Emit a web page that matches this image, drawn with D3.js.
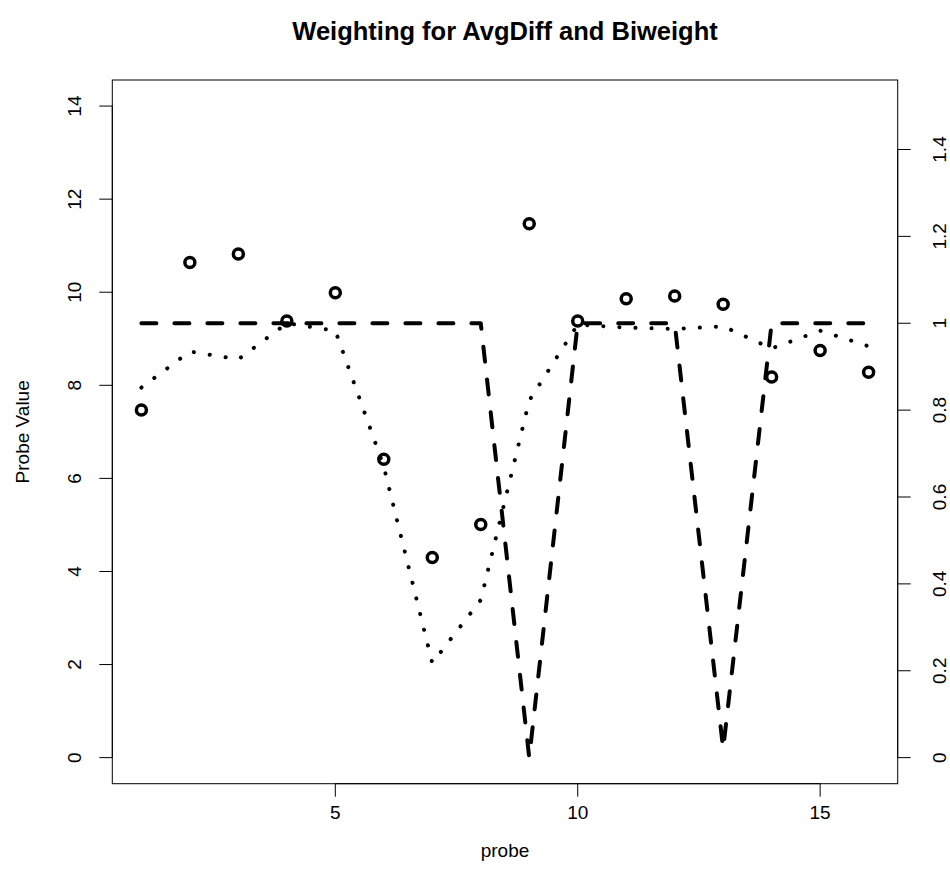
<!DOCTYPE html>
<html>
<head>
<meta charset="utf-8">
<script src="https://cdn.jsdelivr.net/npm/d3@7"></script>
<style>
  html, body { margin: 0; padding: 0; background: #fff; }
  svg { display: block; }
  text { font-family: "Liberation Sans", Arial, Helvetica, sans-serif; fill: #000; }
</style>
</head>
<body>
<script>
// ---- data ----
const probes = [1,2,3,4,5,6,7,8,9,10,11,12,13,14,15,16];
const probeValues = [7.47,10.64,10.82,9.38,9.99,6.41,4.30,5.01,11.47,9.38,9.86,9.92,9.74,8.18,8.75,8.28];
const avgDiffWeights = [0.852,0.935,0.917,1.0,0.983,0.670,0.218,0.363,0.822,0.997,0.990,0.987,0.993,0.942,0.983,0.947];
const biweightWeights = [1,1,1,1,1,1,1,1,0,1,1,1,0.02,1,1,1];
const xTicks = [5,10,15];
const yLeftTicks = [0,2,4,6,8,10,12,14];
const yRightTicks = [0,0.2,0.4,0.6,0.8,1,1.2,1.4];
const yRightLabels = ["0","0.2","0.4","0.6","0.8","1","1.2","1.4"];

const W = 950, H = 888;
const m = {left: 112.3, right: 897.7, top: 80, bottom: 783.7};

const svg = d3.select("body").append("svg").attr("width", W).attr("height", H);

const x = d3.scaleLinear().domain([0.4, 16.6]).range([m.left, m.right]);
const yL = d3.scaleLinear().domain([-0.56, 14.56]).range([m.bottom, m.top]);
const yR = d3.scaleLinear().domain([-0.06, 1.56]).range([m.bottom, m.top]);

// box
svg.append("rect")
  .attr("x", m.left).attr("y", m.top)
  .attr("width", m.right - m.left).attr("height", m.bottom - m.top)
  .attr("fill", "none").attr("stroke", "#000").attr("stroke-width", 1);

const tickLen = 13;
const fs = 19;

// bottom axis
const gB = svg.append("g");
gB.append("line").attr("x1", x(xTicks[0])).attr("x2", x(xTicks[xTicks.length-1]))
  .attr("y1", m.bottom).attr("y2", m.bottom).attr("stroke", "#000");
xTicks.forEach(t => {
  gB.append("line").attr("x1", x(t)).attr("x2", x(t)).attr("y1", m.bottom).attr("y2", m.bottom + tickLen).attr("stroke", "#000");
  gB.append("text").attr("x", x(t)).attr("y", 819).attr("text-anchor", "middle")
    .attr("font-size", fs).text(t);
});

// left axis
const gL = svg.append("g");
gL.append("line").attr("x1", m.left).attr("x2", m.left)
  .attr("y1", yL(yLeftTicks[0])).attr("y2", yL(yLeftTicks[yLeftTicks.length-1])).attr("stroke", "#000");
yLeftTicks.forEach(t => {
  gL.append("line").attr("x1", m.left - tickLen).attr("x2", m.left).attr("y1", yL(t)).attr("y2", yL(t)).attr("stroke", "#000");
  gL.append("text").attr("transform", `translate(${81},${yL(t)}) rotate(-90)`)
    .attr("text-anchor", "middle").attr("font-size", fs).text(t);
});

// right axis
const gR = svg.append("g");
gR.append("line").attr("x1", m.right).attr("x2", m.right)
  .attr("y1", yR(yRightTicks[0])).attr("y2", yR(yRightTicks[yRightTicks.length-1])).attr("stroke", "#000");
yRightTicks.forEach((t, i) => {
  gR.append("line").attr("x1", m.right).attr("x2", m.right + tickLen).attr("y1", yR(t)).attr("y2", yR(t)).attr("stroke", "#000");
  gR.append("text").attr("transform", `translate(${946},${yR(t)}) rotate(-90)`)
    .attr("text-anchor", "middle").attr("font-size", fs).text(yRightLabels[i]);
});

// axis titles
svg.append("text").attr("x", (m.left + m.right) / 2).attr("y", 857).attr("text-anchor", "middle")
  .attr("font-size", fs).text("probe");
svg.append("text").attr("transform", `translate(${29},${(m.top + m.bottom) / 2}) rotate(-90)`)
  .attr("text-anchor", "middle").attr("font-size", fs).text("Probe Value");

// title
svg.append("text").attr("x", (m.left + m.right) / 2).attr("y", 40).attr("text-anchor", "middle")
  .attr("font-size", 25.5).attr("font-weight", "bold").text("Weighting for AvgDiff and Biweight");

// clip
svg.append("clipPath").attr("id", "clip").append("rect")
  .attr("x", m.left).attr("y", m.top).attr("width", m.right - m.left).attr("height", m.bottom - m.top);
const plot = svg.append("g").attr("clip-path", "url(#clip)");

// biweight dashed
const lineB = d3.line().x((d, i) => x(probes[i])).y(d => yR(d));
plot.append("path").datum(biweightWeights).attr("d", lineB)
  .attr("fill", "none").attr("stroke", "#000").attr("stroke-width", 4)
  .attr("stroke-dasharray", "15,18").attr("stroke-linecap", "round").attr("stroke-linejoin", "round");

// avgdiff dotted
plot.append("path").datum(avgDiffWeights).attr("d", lineB)
  .attr("fill", "none").attr("stroke", "#000").attr("stroke-width", 4)
  .attr("stroke-dasharray", "0.1,16").attr("stroke-linecap", "round");

// points
plot.selectAll("circle.pt").data(probeValues).enter().append("circle")
  .attr("class", "pt")
  .attr("cx", (d, i) => x(probes[i])).attr("cy", d => yL(d)).attr("r", 5)
  .attr("fill", "none").attr("stroke", "#000").attr("stroke-width", 3.5);
</script>
</body>
</html>
